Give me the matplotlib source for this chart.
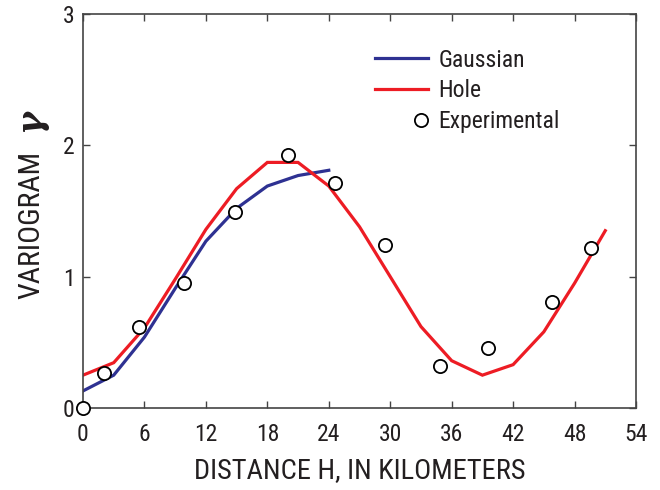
import matplotlib
matplotlib.use("Agg")
import matplotlib.pyplot as plt
from matplotlib.lines import Line2D
from matplotlib.legend_handler import HandlerLine2D
from matplotlib import font_manager

# Data
gauss_x = [0, 3, 6, 9, 12, 15, 18, 21, 24]
gauss_y = [0.13, 0.25, 0.54, 0.91, 1.27, 1.52, 1.69, 1.77, 1.81]
hole_x = [0, 3, 6, 9, 12, 15, 18, 21, 24, 27, 30, 33, 36, 39, 42, 45, 48, 51]
hole_y = [0.25, 0.345, 0.61, 0.98, 1.36, 1.67, 1.87, 1.87, 1.69, 1.38, 1.00,
          0.62, 0.36, 0.25, 0.33, 0.58, 0.95, 1.35]
exp_x = [0, 2.05, 5.5, 9.9, 14.8, 20.0, 24.6, 29.5, 34.9, 39.5, 45.8, 49.6]
exp_y = [0, 0.27, 0.62, 0.95, 1.49, 1.93, 1.71, 1.24, 0.32, 0.46, 0.81, 1.22]
xticks = [0, 6, 12, 18, 24, 30, 36, 42, 48, 54]
yticks = [0, 1, 2, 3]

# pick a condensed sans font if one is installed
entries = font_manager.fontManager.ttflist
names = {f.name for f in entries}
family = None
stretch = 'normal'
for cand in ['Liberation Sans Narrow', 'Roboto Condensed', 'Open Sans Condensed',
             'Noto Sans Condensed', 'Arial Narrow', 'Nimbus Sans Narrow']:
    if cand in names:
        family = cand
        break
if family is None:
    for fam in ['DejaVu Sans', 'Noto Sans', 'Open Sans', 'Roboto']:
        if any(f.name == fam and str(f.stretch) in ('condensed', 'semi-condensed', '87', '75')
               for f in entries):
            family = fam
            stretch = 'condensed'
            break
if family is None:
    family = 'Roboto' if 'Roboto' in names else 'DejaVu Sans'

plt.rcParams['font.family'] = [family, 'DejaVu Sans']
plt.rcParams['font.stretch'] = stretch


class RightMarkerHandler(HandlerLine2D):
    """Legend handler that shows a single marker at the right end of the handle."""
    def create_artists(self, legend, orig_handle, xdescent, ydescent, width,
                       height, fontsize, trans):
        arts = super().create_artists(legend, orig_handle, xdescent, ydescent,
                                      width, height, fontsize, trans)
        for a in arts:
            if a.get_marker() not in (None, 'None', '', ' '):
                a.set_markevery([1])
        return arts


fig = plt.figure(figsize=(6.6, 4.9), dpi=100)
ax = fig.add_axes([83/660, 82/490, (636-83)/660, (408-14)/490])

blue = '#2e3192'
red = '#ed1c24'
ax.plot(gauss_x, gauss_y, color=blue, lw=2.3, solid_joinstyle='miter', zorder=2)
ax.plot(hole_x, hole_y, color=red, lw=2.3, solid_joinstyle='miter', zorder=2)
ax.plot(exp_x, exp_y, 'o', ms=9.5, mfc='white', mec='black', mew=1.3,
        clip_on=False, zorder=4)

ax.set_xlim(0, 54)
ax.set_ylim(0, 3)
ax.set_xticks(xticks)
ax.set_yticks(yticks)
ax.tick_params(direction='in', length=5, width=1, color='#444444',
               top=True, right=True, labelsize=17)
ax.tick_params(axis='x', pad=11)
ax.tick_params(axis='y', pad=6)
for s in ax.spines.values():
    s.set_color('#444444')
    s.set_linewidth(1.2)
for lab in ax.get_xticklabels() + ax.get_yticklabels():
    lab.set_color('#231f20')

ax.set_xlabel('DISTANCE H, IN KILOMETERS', fontsize=20.5, color='#231f20', labelpad=8)
fig.text(31/660, 1 - 225/490, 'VARIOGRAM', rotation=90, fontsize=21.5,
         ha='center', va='center', color='#231f20')
fig.text(30/660, 1 - 120/490, 'γ', rotation=90, fontsize=25, fontweight='bold',
         family=['DejaVu Serif'], style='italic', stretch='normal',
         ha='center', va='center', color='#231f20')

h_gauss = Line2D([], [], color=blue, lw=2.3)
h_hole = Line2D([], [], color=red, lw=2.3)
h_exp = Line2D([], [], marker='o', ls='none', ms=9.5, mfc='white',
               mec='black', mew=1.3)
leg = ax.legend([h_gauss, h_hole, h_exp], ['Gaussian', 'Hole', 'Experimental'],
                loc='upper left', bbox_to_anchor=(0.528, 0.912), frameon=False,
                fontsize=17, handlelength=2.25, handletextpad=0.45,
                labelspacing=0.32, borderaxespad=0, borderpad=0,
                handler_map={h_exp: RightMarkerHandler(numpoints=2)})
for t in leg.get_texts():
    t.set_color('#231f20')

fig.savefig('out.png', dpi=100)
